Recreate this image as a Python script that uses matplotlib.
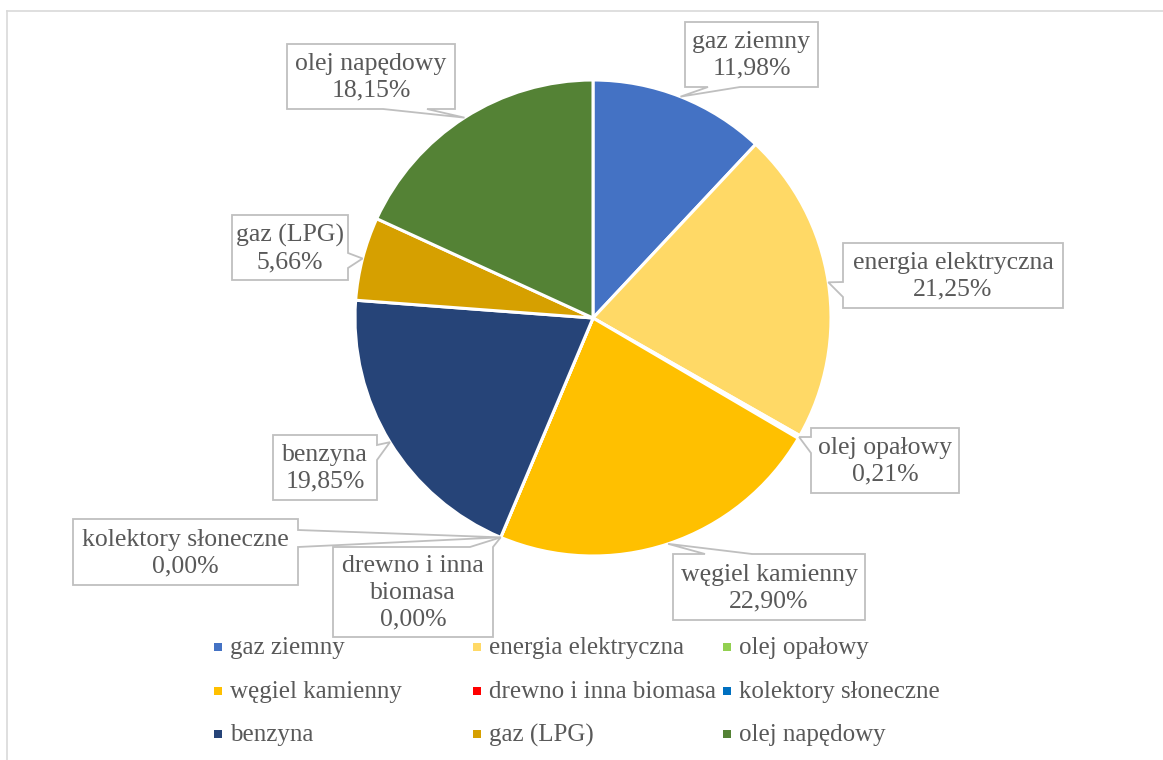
import numpy as np
import matplotlib
matplotlib.use("Agg")
import matplotlib.pyplot as plt
from matplotlib.patches import Polygon
from matplotlib.lines import Line2D

# ---- data ----
categories = ["gaz ziemny", "energia elektryczna", "olej opałowy",
              "węgiel kamienny", "drewno i inna biomasa", "kolektory słoneczne",
              "benzyna", "gaz (LPG)", "olej napędowy"]
shares = [11.98, 21.25, 0.21, 22.90, 0.00, 0.00, 19.85, 5.66, 18.15]
colors = ["#4472C4", "#FFD966", "#92D050", "#FFC000", "#FF0000", "#0070C0",
          "#264478", "#D6A000", "#548235"]

# ---- layout (pixel coordinates, origin top-left) ----
W, H = 1163, 760
CX, CY, R = 593, 318, 238
TEXT_COLOR = "#595959"
BOX_EDGE = "#BFBFBF"
FONT = ["Liberation Serif", "DejaVu Serif"]
FS = 18.5
FS_LEG = 18

# box (x0, y0, x1, y1), edge with tail, tail base positions
label_layout = [
    ((685, 22, 818, 87), "bottom", (708, 740)),
    ((843, 243, 1063, 308), "left", (282, 297)),
    ((811, 428, 959, 493), "left", (437, 453)),
    ((673, 554, 865, 620), "top", (705, 752)),
    ((333, 547, 493, 637), "top", (470, 493)),
    ((73, 519, 298, 585), "right", (530, 547)),
    ((273, 435, 377, 500), "right", (445, 460)),
    ((232, 215, 348, 280), "right", (253, 268)),
    ((287, 44, 455, 109), "bottom", (383, 427)),
]
label_name_override = {"drewno i inna biomasa": "drewno i inna\nbiomasa"}

legend_cols_x = [218, 477, 727]
legend_rows_y = [647, 691, 734]

fig = plt.figure(figsize=(W / 100, H / 100), dpi=100)
ax = fig.add_axes([0, 0, 1, 1])

wedges, _ = ax.pie(shares, colors=colors, center=(CX, CY), radius=R,
                   startangle=-90, counterclock=True,
                   wedgeprops=dict(edgecolor="white", linewidth=2.2))
ax.set_xlim(0, W)
ax.set_ylim(H, 0)
ax.set_aspect("auto")
ax.axis("off")

# chart frame (top and left visible)
ax.add_line(Line2D([7, W], [11, 11], color="#D9D9D9", lw=1.2, zorder=1))
ax.add_line(Line2D([7, 7], [11, H], color="#D9D9D9", lw=1.2, zorder=1))


def callout_points(box, edge, base, tip):
    x0, y0, x1, y1 = box
    a, b = base
    if edge == "bottom":
        return [(x0, y0), (x1, y0), (x1, y1), (b, y1), tip, (a, y1), (x0, y1)]
    if edge == "top":
        return [(x0, y0), (a, y0), tip, (b, y0), (x1, y0), (x1, y1), (x0, y1)]
    if edge == "left":
        return [(x0, y0), (x1, y0), (x1, y1), (x0, y1), (x0, b), tip, (x0, a)]
    return [(x0, y0), (x1, y0), (x1, a), tip, (x1, b), (x1, y1), (x0, y1)]


cum = np.cumsum([0] + shares)
total = sum(shares)
for i, (name, val) in enumerate(zip(categories, shares)):
    box, edge, base = label_layout[i]
    mid = (cum[i] + val / 2) / total * 360
    th = np.radians(mid)
    tip = (CX + R * np.sin(th), CY - R * np.cos(th))
    poly = Polygon(callout_points(box, edge, base, tip), closed=True,
                   facecolor="white", edgecolor=BOX_EDGE, lw=1.3,
                   joinstyle="miter", zorder=3)
    ax.add_patch(poly)
    txt = label_name_override.get(name, name) + "\n" + f"{val:.2f}".replace(".", ",") + "%"
    ax.text((box[0] + box[2]) / 2, (box[1] + box[3]) / 2 + 1, txt,
            ha="center", va="center", family=FONT, fontsize=FS,
            color=TEXT_COLOR, linespacing=1.28, zorder=4)

# legend (3 columns, row-major)
for i, (name, col) in enumerate(zip(categories, colors)):
    r, c = divmod(i, 3)
    x, y = legend_cols_x[c], legend_rows_y[r]
    ax.scatter([x], [y], marker="s", s=36, color=col, linewidths=0, zorder=5)
    ax.text(x + 12, y + 1, name, ha="left", va="center", family=FONT,
            fontsize=FS_LEG, color=TEXT_COLOR, zorder=5)

fig.savefig("out.png", dpi=100, facecolor="white")
